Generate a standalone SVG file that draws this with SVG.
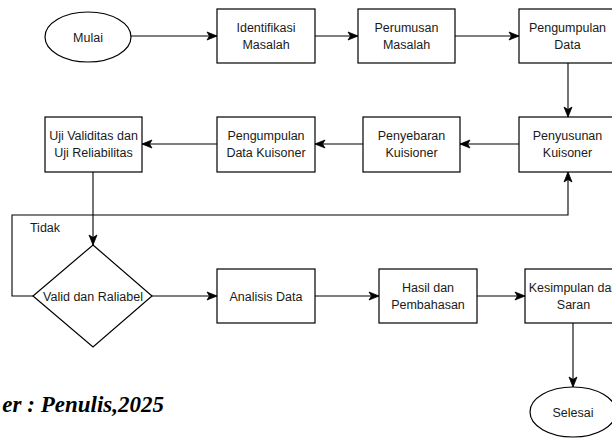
<svg xmlns="http://www.w3.org/2000/svg" width="612" height="442" viewBox="0 0 612 442">
<defs>
<style>
.n{fill:#fff;stroke:#000;stroke-width:1.2}
.t{font-family:"Liberation Sans",Arial,sans-serif;font-size:12.5px;fill:#1a1a1a;text-anchor:middle}
.c{fill:none;stroke:#000;stroke-width:1.1}
.cap{font-family:"Liberation Serif","Times New Roman",serif;font-size:23px;font-weight:bold;font-style:italic;fill:#000}
</style>
<marker id="ar" markerUnits="userSpaceOnUse" markerWidth="12" markerHeight="12" viewBox="0 0 12 12" refX="11" refY="6" orient="auto">
<path d="M1,2 L11,6 L1,10 L3.5,6 Z" fill="#000" stroke="#000" stroke-width="0.8"/>
</marker>
</defs>
<rect width="612" height="442" fill="#fff"/>
<g id="connectors">
<path class="c" d="M131,36 H217" marker-end="url(#ar)"/>
<path class="c" d="M315,36 H358" marker-end="url(#ar)"/>
<path class="c" d="M455,36 H519" marker-end="url(#ar)"/>
<path class="c" d="M568,63 V117" marker-end="url(#ar)"/>
<path class="c" d="M519,144 H460" marker-end="url(#ar)"/>
<path class="c" d="M363,144 H315" marker-end="url(#ar)"/>
<path class="c" d="M217,144 H142" marker-end="url(#ar)"/>
<path class="c" d="M93,172 V245" marker-end="url(#ar)"/>
<path class="c" d="M33,296 H12 V215 H568 V172" marker-end="url(#ar)"/>
<path class="c" d="M152,296 H217" marker-end="url(#ar)"/>
<path class="c" d="M315,296 H379" marker-end="url(#ar)"/>
<path class="c" d="M477,296 H525" marker-end="url(#ar)"/>
<path class="c" d="M573,323 V387" marker-end="url(#ar)"/>
<text class="t" x="45" y="232">Tidak</text>
</g>
<g id="mulai"><ellipse class="n" cx="88" cy="37" rx="43" ry="25"/><text class="t" x="88" y="41.5">Mulai</text></g>
<g id="identifikasi"><rect class="n" x="217" y="9" width="98" height="54"/><text class="t" x="266" y="32">Identifikasi</text><text class="t" x="266" y="48.5">Masalah</text></g>
<g id="perumusan"><rect class="n" x="358" y="9" width="97" height="54"/><text class="t" x="406.5" y="32">Perumusan</text><text class="t" x="406.5" y="48.5">Masalah</text></g>
<g id="pengumpulan-data"><rect class="n" x="519" y="9" width="97" height="54"/><text class="t" x="567.5" y="32">Pengumpulan</text><text class="t" x="567.5" y="48.5">Data</text></g>
<g id="penyusunan"><rect class="n" x="519" y="117" width="97" height="55"/><text class="t" x="567.5" y="140">Penyusunan</text><text class="t" x="567.5" y="156.5">Kuisoner</text></g>
<g id="penyebaran"><rect class="n" x="363" y="117" width="97" height="55"/><text class="t" x="411.5" y="140">Penyebaran</text><text class="t" x="411.5" y="156.5">Kuisioner</text></g>
<g id="pengumpulan-kuisoner"><rect class="n" x="217" y="117" width="98" height="55"/><text class="t" x="266" y="140">Pengumpulan</text><text class="t" x="266" y="156.5">Data Kuisoner</text></g>
<g id="uji"><rect class="n" x="45" y="117" width="97" height="55"/><text class="t" x="93.5" y="140">Uji Validitas dan</text><text class="t" x="93.5" y="156.5">Uji Reliabilitas</text></g>
<g id="valid"><polygon class="n" points="93,245 152,296 93,347 33,296"/><text class="t" x="93" y="300.5">Valid dan Raliabel</text></g>
<g id="analisis"><rect class="n" x="217" y="269" width="98" height="54"/><text class="t" x="266" y="300.5">Analisis Data</text></g>
<g id="hasil"><rect class="n" x="379" y="269" width="98" height="54"/><text class="t" x="428" y="292">Hasil dan</text><text class="t" x="428" y="308.5">Pembahasan</text></g>
<g id="kesimpulan"><rect class="n" x="525" y="269" width="97" height="54"/><text class="t" x="573.5" y="292">Kesimpulan dan</text><text class="t" x="573.5" y="308.5">Saran</text></g>
<g id="selesai"><ellipse class="n" cx="573" cy="412" rx="43" ry="25"/><text class="t" x="573" y="416.5">Selesai</text></g>
<text class="cap" x="164" y="412" text-anchor="end">er : Penulis,2025</text>
</svg>
